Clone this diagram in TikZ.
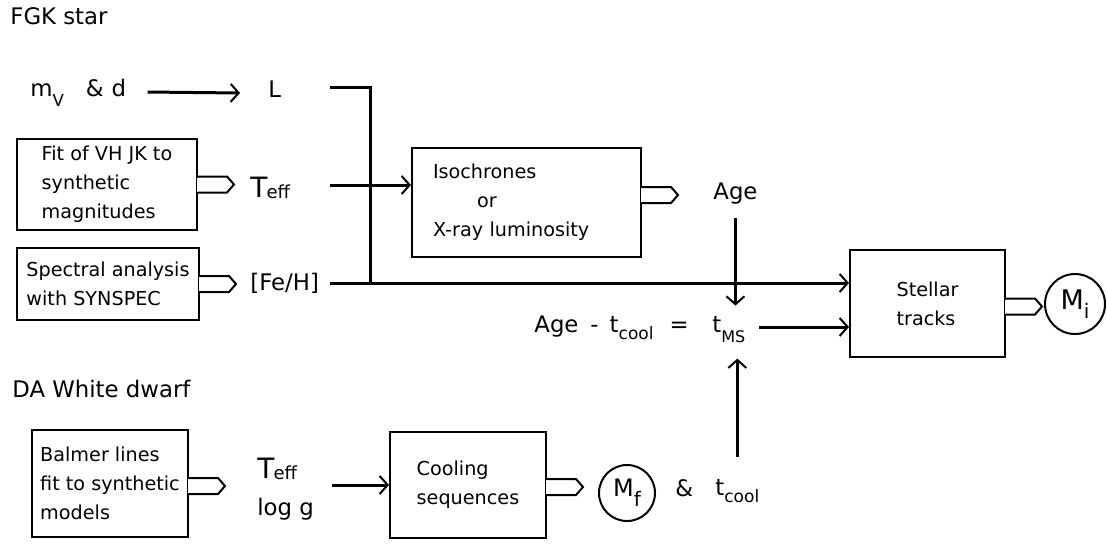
\documentclass[tikz,border=0pt]{standalone}
\usepackage{fontspec}
\setmainfont{DejaVu Sans}
\usetikzlibrary{arrows.meta}

\newcommand{\boxfont}{\fontsize{9.6}{14.5}\selectfont}
\newcommand{\lblfont}{\fontsize{11.4}{13.5}\selectfont}
\newcommand{\lowsub}[3]{\raisebox{-#1}{\fontsize{#2}{#2}\selectfont #3}}
\newcommand{\bigT}{{\fontsize{14}{14}\selectfont T}}
% output tab on the right side of a box
\newcommand{\outtab}[2]{%
  \fill[white] ([xshift=-0.7pt,yshift=#2+3.5pt]#1.east) rectangle ([xshift=0.5pt,yshift=#2-3.5pt]#1.east);
  \draw[tab] ([yshift=#2+4pt]#1.east) -- ++(14.5pt,0) -- ++(3.5pt,-4pt) -- ++(-3.5pt,-4pt) -- ++(-14.5pt,0);}

\begin{document}
\begin{tikzpicture}[x=0.5pt, y=-0.5pt,
  box/.style={draw, line width=1pt, align=left, font=\boxfont, inner sep=0pt},
  lbl/.style={inner sep=0pt, anchor=base west, font=\lblfont},
  ball/.style={circle, draw, line width=1pt, inner sep=0pt, font=\lblfont},
  tab/.style={line width=1pt, fill=white},
  thk/.style={line width=1.5pt},
  arr/.style={line width=1.5pt, -{Straight Barb[length=4pt,width=9pt,line width=1pt]}}]
  \useasboundingbox (0,0) rectangle (1107,543);
  \coordinate (col) at (330,0);
  \coordinate (jn) at (370,0);

  % FGK star
  \node[lbl] (fgk) at (10,24) {FGK star};
  \node[lbl] (mvd) at (30,96) {m\lowsub{5pt}{8.3}{V}\hspace{11pt}\&\hspace{4pt}d};
  \node[lbl] (lum) at (268,97) {L};
  \node[box, minimum width=90pt, minimum height=45.5pt] (fit) at (107,184.5)
    {Fit of VH JK to\\synthetic\\magnitudes};
  \node[lbl] (teff1) at (250,197) {\bigT\hspace{-0.5pt}\lowsub{0.5pt}{9}{eff}};
  \node[box, minimum width=91pt, minimum height=36pt] (spec) at (108,284)
    {Spectral analysis\\with SYNSPEC};
  \node[lbl] (feh) at (250,290) {[Fe/H]};
  \node[box, text width=93.5pt, inner xsep=10.5pt, minimum height=54.5pt] (iso) at (526.5,202.5)
    {Isochrones\\\hspace*{22pt}or\\X-ray luminosity};
  \node[lbl] (age) at (713,199) {Age};
  \node[lbl] (eqn) at (534,332)
    {Age\hspace{6pt}-\hspace{5.5pt}t\lowsub{3.5pt}{8.5}{cool}\hspace{8pt}=};
  \node[lbl] (tms) at (712,332) {t\lowsub{5pt}{8}{MS}};
  \node[box, minimum width=77.5pt, minimum height=53.5pt] (stellar) at (927.5,303.5)
    {Stellar\\tracks};
  \node[ball, minimum size=30pt] (mi) at (1075,304) {{\fontsize{13.5}{13.5}\selectfont M}\lowsub{4.5pt}{10}{i}};

  % DA White dwarf
  \node[lbl] (da) at (12,397) {DA White dwarf};
  \node[box, minimum width=78pt, minimum height=53.5pt] (balmer) at (110,483.5)
    {Balmer lines\\fit to synthetic\\models};
  \node[lbl] (teff2) at (257,478) {\bigT\hspace{-0.5pt}\lowsub{0.5pt}{9}{eff}};
  \node[lbl] (logg) at (257,515) {log g};
  \node[box, minimum width=78pt, minimum height=53pt] (cool) at (468,485)
    {Cooling\\sequences};
  \node[ball, minimum size=28pt] (mf) at (627,493) {{\fontsize{12}{12}\selectfont M}\lowsub{5pt}{10}{f}};
  \node[lbl] (amp) at (675,496) {\&};
  \node[lbl] (tcool) at (715,495) {t\lowsub{3.5pt}{8.5}{cool}};

  % tabs
  \outtab{fit}{0pt}
  \outtab{spec}{0pt}
  \outtab{iso}{3.75pt}
  \outtab{stellar}{-1.5pt}
  \outtab{balmer}{-1.25pt}
  \outtab{cool}{-1pt}

  % connectors
  \draw[arr] ([xshift=10.5pt,yshift=2pt]mvd.base east) -- ([xshift=-14pt,yshift=2pt]lum.base west);
  \draw[thk] ([yshift=5pt]col |- lum.base) -| ([yshift=3.5pt]jn |- feh.base);
  \draw[arr] ([yshift=6pt]col |- teff1.base) coordinate (r) -- (r -| iso.west);
  \draw[arr] ([yshift=3.5pt]col |- feh.base) coordinate (p) -- (p -| stellar.west);
  \draw[arr] ([yshift=-7pt]age.south) -- ([yshift=5pt]age.south |- tms.north);
  \draw[arr] ([xshift=6.5pt,yshift=2.5pt]tms.base east) coordinate (q) -- (q -| stellar.west);
  \draw[arr] ([yshift=11pt]tcool.north) -- ([yshift=-8pt]tcool.north |- tms.south);
  \draw[arr] ([xshift=9pt,yshift=15pt]logg.base east) coordinate (s) -- (s -| cool.west);
\end{tikzpicture}
\end{document}
